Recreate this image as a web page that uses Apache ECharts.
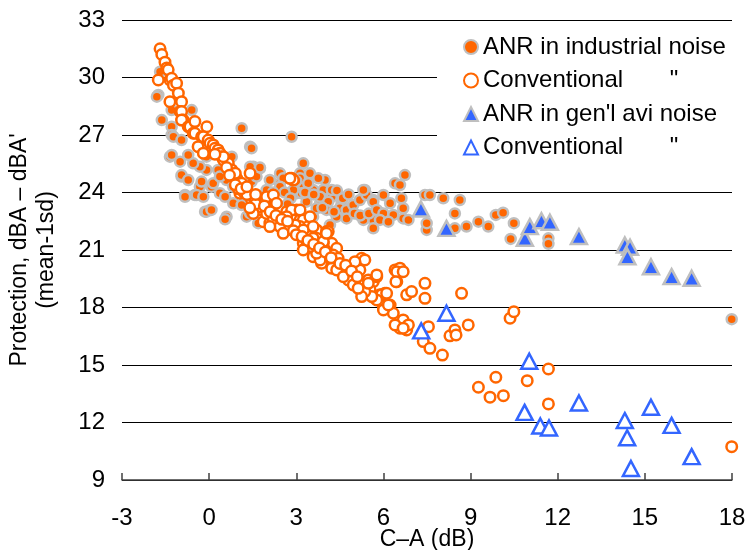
<!DOCTYPE html>
<html><head><meta charset="utf-8">
<script src="https://cdn.jsdelivr.net/npm/echarts@6/dist/echarts.min.js"></script>
<style>html,body{margin:0;padding:0;background:#fff}#c{width:749px;height:550px}</style>
</head><body><div id="c"></div><script>
// ---- data (x = C–A dB, y = protection dBA) ----
const xTicks = [-3, 0, 3, 6, 9, 12, 15, 18];
const yTicks = [9, 12, 15, 18, 21, 24, 27, 30, 33];
const seriesNames = ["ANR in industrial noise", "Conventional       \"", "ANR in gen'l avi noise", "Conventional\u00a0\u00a0\u00a0\u00a0\u00a0\u00a0\u00a0\""];

const anrIndustrial = [
[-1.69,30.3],[-1.75,29.09],[-1.8,29.0],[-1.63,27.78],[-1.29,28.3],[-1.29,27.43],[-1.29,27.0],[-1.23,26.91],[-0.95,26.74],[-1.35,25.87],[-1.29,25.96],[-1.0,25.61],[-0.6,28.3],[-0.95,24.83],[-0.83,23.87],[-0.49,23.87],[-0.14,23.0],[0.03,23.09],[0.6,22.74],[1.12,27.35],[1.41,26.39],[2.84,26.91],[3.24,25.52],[-0.32,24.3],[0.08,24.3],[0.31,25.18],[0.78,25.87],[1.52,25.35],[1.75,25.26],[1.46,24.57],[1.69,23.78],[2.09,23.44],[2.44,25.0],[2.44,24.48],[3.13,25.0],[3.47,25.0],[3.24,24.39],[3.99,24.65],[3.58,24.13],[3.01,23.96],[3.93,24.13],[4.22,23.78],[3.82,23.44],[3.35,23.52],[1.69,22.4],[1.29,22.74],[2.21,22.91],[3.58,22.74],[4.16,22.31],
[-0.95,24.91],[-0.72,24.65],[-0.83,23.78],[-0.43,23.87],[-0.2,23.78],[-0.09,23.0],[0.08,23.09],[0.55,22.6],[-0.26,24.57],[-0.09,25.18],[-0.32,25.35],[0.14,24.48],[0.37,23.96],[0.55,23.78],[0.83,23.44],[0.6,24.65],[0.37,24.83],[0.83,24.3],[1.41,25.35],[1.63,24.83],[1.52,23.18],[1.98,22.74],[1.41,22.91],[1.12,23.35],[-0.09,25.87],[-0.55,25.52],[-0.72,25.96],
[1.46,26.31],[1.75,25.3],[2.55,24.74],[3.13,24.74],[3.76,24.74],[3.41,24.48],[3.18,23.96],[4.22,24.13],[4.4,24.1],[3.82,23.78],[4.1,23.52],[4.56,23.44],[4.5,23.18],[4.73,23.09],[4.96,23.35],[5.19,23.61],[5.36,24.13],[5.42,23.87],[5.65,23.61],[5.83,23.0],[5.65,22.57],[5.31,22.57],[4.73,22.65],[4.39,22.74],[4.04,23.09],[3.7,23.18],[2.9,24.13],[2.44,24.3],[2.09,24.65],[1.98,24.13],[1.63,23.61],
[2.6,24.0],[2.8,23.7],[3.0,24.6],[3.3,24.0],[3.6,23.9],[3.9,23.2],[4.3,23.0],[4.6,23.7],[4.8,23.9],[5.0,22.9],[5.2,22.8],[5.5,22.9],[2.2,24.0],[2.7,23.4],
[6.74,24.91],[6.4,24.48],[6.57,24.39],[5.31,24.13],[6.0,23.87],[6.62,23.7],[7.43,23.87],[7.6,23.87],[8.06,23.7],[8.63,23.61],[8.46,22.91],[5.65,23.52],[6.23,23.44],[6.68,23.18],[5.77,23.09],[6.0,22.91],[6.34,22.83],[6.68,22.65],[5.88,22.57],[5.65,22.13],[6.17,22.48],[6.86,22.57],[7.49,22.05],[7.49,22.4],[8.46,22.13],[8.86,22.22],[9.27,22.48],[9.61,22.22],[9.87,22.83],[10.12,22.95],[10.49,22.4],[10.38,21.58],[11.68,21.61],[11.68,21.32],[17.99,17.39]
];

const convIndustrial = [
[-1.69,31.5],[-1.63,31.2],[-1.52,30.8],[-1.46,30.5],[-1.41,30.4],[-1.75,29.87],[-1.35,29.87],[-1.29,29.96],[-1.23,29.6],[-1.12,29.7],[-1.06,29.18],[-1.35,28.74],[-0.95,28.74],[-1.0,28.22],[-0.95,28.22],[-0.89,27.78],[-0.95,27.78],[-0.72,27.43],[-0.66,27.43],[-0.49,27.7],[-0.08,27.43],[-0.55,27.09],[-0.49,27.09],[-0.26,26.91],[-0.2,26.91],[-0.03,26.74],[0.03,26.57],[0.14,26.48],[0.2,26.31],[0.31,26.22],[0.37,26.05],[-0.38,26.39],[-0.2,26.05],[0.43,25.87],[0.49,25.7],[0.66,25.52],[0.78,25.18],[0.49,25.87],[0.2,26.0],[0.83,24.83],[0.95,24.74],[1.06,24.48],[1.12,24.48],[1.41,25.0],[1.29,24.13],[1.06,23.96],[1.46,23.61],[1.52,23.78],[1.75,23.61],[1.81,23.09],[1.98,23.78],[1.86,22.48],[2.21,23.87],[2.32,23.44],[2.84,24.74],[2.9,24.65],[2.78,24.74],[2.67,23.0],[3.01,23.09],[3.13,22.57],[2.09,22.4],[2.67,22.31],[1.58,23.61],[1.75,23.26],[1.98,22.91],[2.21,22.57],[2.44,22.22],[2.84,23.09],[3.13,23.09],[3.24,22.57],[3.13,22.22],[3.41,22.22],[2.78,22.22],[3.7,22.05],[4.04,21.96],[3.47,21.7],[3.24,21.35],[3.87,21.52],[4.22,21.35],[4.39,21.09],[2.55,21.87],[2.09,22.22],[1.52,22.91],[2.67,22.74],[2.96,22.31],[3.24,22.05],[3.47,22.74],[3.58,22.22],[4.1,21.96],[3.7,21.61],[3.93,21.35],[3.3,21.09],[3.58,20.65],[4.04,20.74],[4.33,20.65],[3.87,20.31],[4.22,20.05],[4.56,20.13],[4.68,19.79],[4.85,19.44],[5.25,20.57],[5.36,20.48],[5.19,19.96],[5.02,19.18],[5.36,19.35],[5.48,19.44],[5.25,18.83],[5.65,19.35],[5.77,19.61],[5.54,18.92],[5.88,18.66],[6.05,18.74],[5.71,18.48],[6.0,18.05],[6.23,18.13],[6.4,19.96],[6.57,20.05],[6.46,19.35],[6.34,17.7],[6.68,17.35],[6.57,16.92],[6.8,16.83],[6.8,18.66],[6.97,18.83],[7.43,19.26],[7.43,18.48],[7.55,17.0],[7.37,16.22],[7.6,15.87],[8.03,15.52],[8.29,16.52],[8.46,16.83],[8.5,16.57],[8.92,17.09],[8.69,18.74],[10.36,17.44],[10.49,17.78],[9.27,13.84],[9.87,14.36],[9.67,13.32],[10.13,13.4],[10.95,14.18],[11.68,14.79],[11.68,12.97],[17.99,10.74],
[6.46,19.87],[6.68,19.87],[6.43,19.35],[6.86,17.09],[6.4,17.09],[6.68,16.92],[6.0,17.87],[6.17,18.13],[5.94,18.66],[6.11,18.74],[5.77,18.39],[5.6,18.57],[5.36,18.83],[5.25,18.57],[5.48,19.26],[5.77,19.7],[5.02,20.39],[4.79,19.44],[4.96,19.18],[5.13,19.0],[4.39,19.96],[4.62,19.61],[3.82,20.48],[3.99,21.0],[3.7,20.83],[3.47,21.18],[3.35,21.52],[3.24,21.0],[3.58,21.61],[3.93,21.44],[4.04,21.87],[4.27,20.74],[4.44,20.57],
[0.6,25.3],[0.9,25.0],[1.0,24.2],[1.2,24.0],[0.7,24.9],[1.3,23.9],[1.6,23.4],[1.4,23.2],
[0.9,24.4],[1.1,24.2],[1.3,24.3],[1.6,23.9],[1.9,23.3],[2.1,23.0],[2.3,22.8],[2.5,22.6],[2.7,22.5],[2.9,22.0],[3.0,21.8],[3.2,21.7],[3.4,21.5],[3.6,21.3],[3.8,21.1],[4.0,20.9],[4.2,20.6],[4.5,20.3],[4.7,20.2],[4.9,19.9],[5.1,19.6]
];

const anrAvi = [
[7.29,23.14],[8.17,22.13],[10.87,21.61],[11.04,22.22],[11.44,22.53],[11.73,22.45],[12.73,21.7],[14.31,21.26],[14.49,21.14],[14.4,20.65],[15.21,20.13],[15.92,19.61],[16.61,19.53]
];

const convAvi = [
[7.3,16.78],[8.17,17.7],[11.02,15.2],[10.86,12.53],[11.4,11.82],[11.7,11.71],[12.73,13.02],[14.31,12.1],[14.39,11.2],[14.52,9.6],[15.21,12.8],[15.92,11.85],[16.61,10.22]
];

// ---- chart ----
const FONT = 'Liberation Sans, Arial, sans-serif';
const ORANGE = '#FF6600', GREY = '#BFBFBF', BLUE = '#3366FF';
const chart = echarts.init(document.getElementById('c'), null, {renderer: 'canvas'});
chart.setOption({
  animation: false,
  backgroundColor: '#fff',
  textStyle: {fontFamily: FONT, color: '#000'},
  grid: {left: 122, right: 17, top: 20, bottom: 70, containLabel: false, outerBoundsMode: 'none'},
  xAxis: {
    type: 'value', min: xTicks[0], max: xTicks[xTicks.length - 1], interval: 3,
    name: 'C–A (dB)', nameLocation: 'middle', nameGap: 48, nameMoveOverlap: false,
    nameTextStyle: {fontSize: 23, color: '#000', fontFamily: FONT},
    axisLine: {show: true, lineStyle: {color: '#404040', width: 1.5}},
    axisTick: {show: true, inside: true, length: 7, lineStyle: {color: '#404040', width: 1.5}},
    axisLabel: {fontSize: 24, color: '#000', margin: 26, fontFamily: FONT},
    splitLine: {show: false}
  },
  yAxis: {
    type: 'value', min: yTicks[0], max: yTicks[yTicks.length - 1], interval: 3,
    name: "Protection, dBA – dBA'\n(mean-1sd)", nameLocation: 'middle', nameGap: 62, nameRotate: 90,
    nameTextStyle: {fontSize: 23, color: '#000', fontFamily: FONT, lineHeight: 27},
    axisLine: {show: false}, axisTick: {show: false},
    axisLabel: {fontSize: 24, color: '#000', margin: 17, fontFamily: FONT},
    splitLine: {show: true, lineStyle: {color: '#000', width: 1}}
  },
  legend: {
    orient: 'vertical', left: 437, top: 31,
    padding: [4, 20, 6, 26], itemGap: 9.5, itemWidth: 14, itemHeight: 14,
    backgroundColor: '#fff',
    textStyle: {fontSize: 24, color: '#000', fontFamily: FONT},
    data: seriesNames
  },
  series: [
    {name: seriesNames[0], type: 'scatter', data: anrIndustrial, symbol: 'circle', symbolSize: 10,
     itemStyle: {color: ORANGE, borderColor: GREY, borderWidth: 2.5, opacity: 1}},
    {name: seriesNames[1], type: 'scatter', data: convIndustrial, symbol: 'circle', symbolSize: 10.5,
     itemStyle: {color: '#fff', borderColor: ORANGE, borderWidth: 2.5, opacity: 1}},
    {name: seriesNames[2], type: 'scatter', data: anrAvi, symbol: 'triangle', symbolSize: [16, 15],
     itemStyle: {color: BLUE, borderColor: GREY, borderWidth: 2.5, opacity: 1}},
    {name: seriesNames[3], type: 'scatter', data: convAvi, symbol: 'triangle', symbolSize: [16, 15],
     itemStyle: {color: '#fff', borderColor: BLUE, borderWidth: 2.5, opacity: 1}}
  ]
});
</script></body></html>
